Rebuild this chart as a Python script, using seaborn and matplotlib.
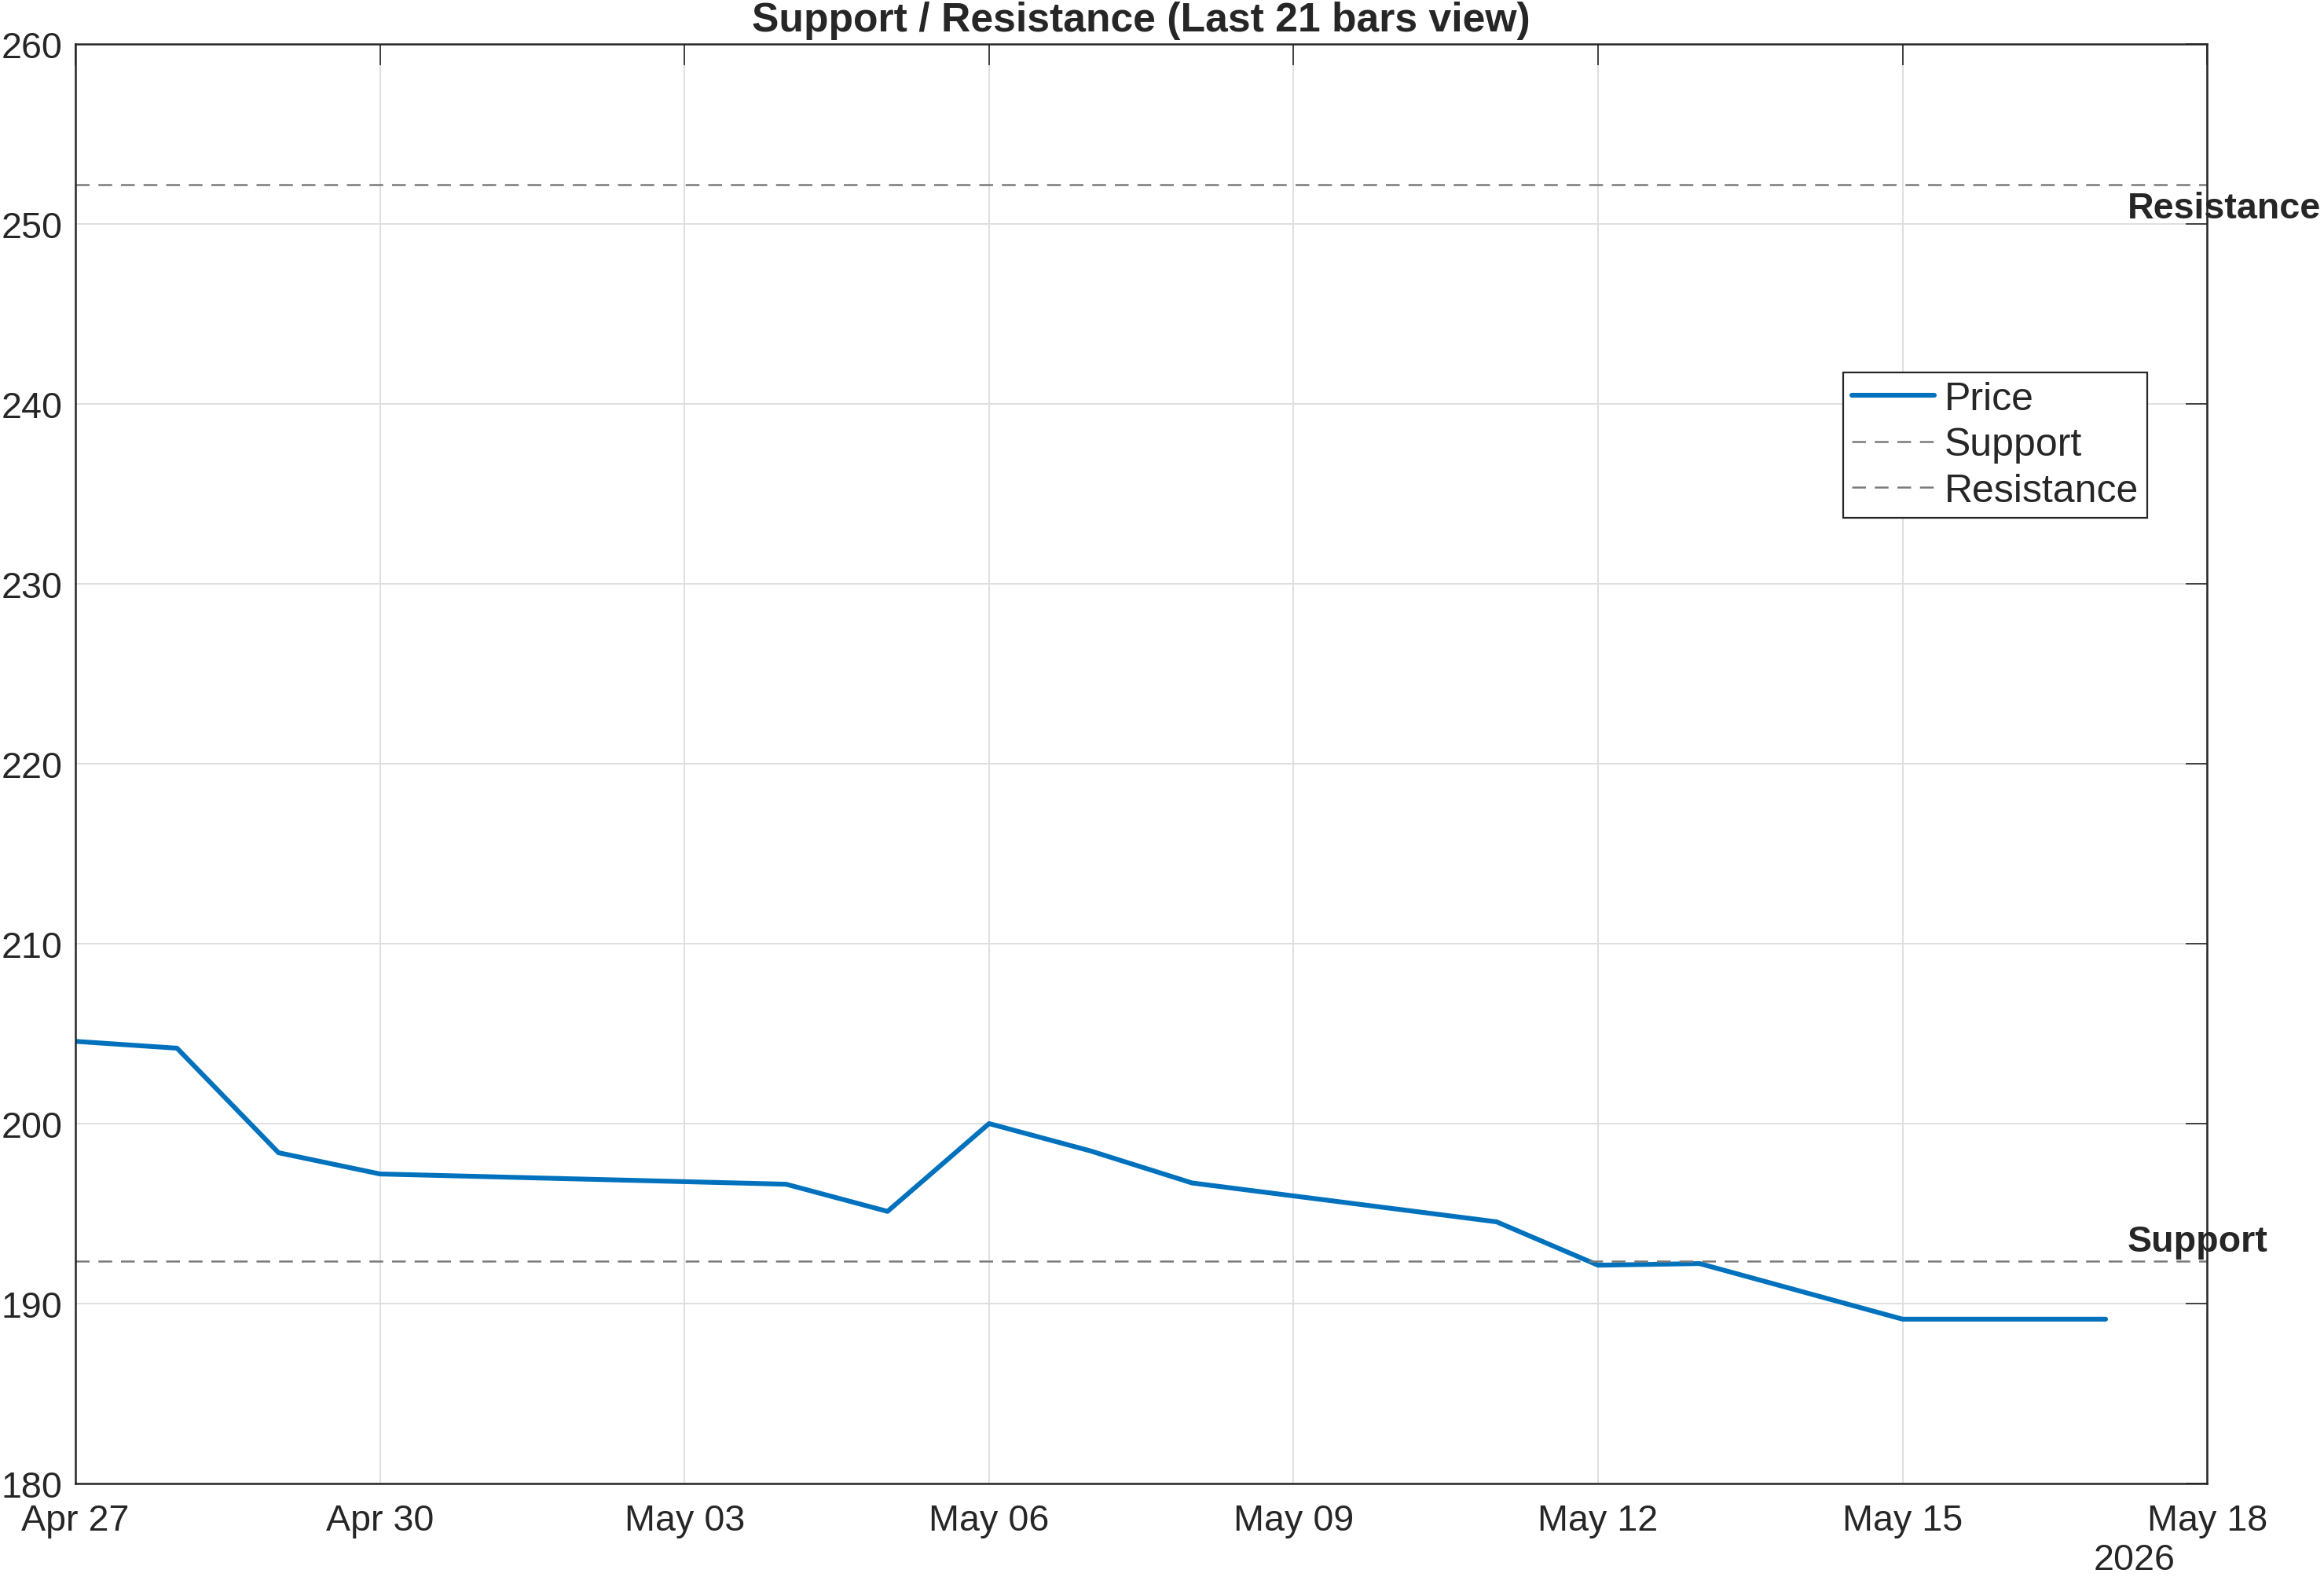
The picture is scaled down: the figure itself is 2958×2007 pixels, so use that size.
import numpy as np
import pandas as pd
import seaborn as sns
import matplotlib
matplotlib.use('Agg')
import matplotlib.pyplot as plt
import matplotlib.dates as mdates

# data
dates = ['2026-04-27', '2026-04-28', '2026-04-29', '2026-04-30', '2026-05-04',
         '2026-05-05', '2026-05-06', '2026-05-07', '2026-05-08', '2026-05-11',
         '2026-05-12', '2026-05-13', '2026-05-15', '2026-05-17']
prices = [204.57, 204.19, 198.38, 197.2, 196.63,
          195.12, 200.0, 198.48, 196.7, 194.54,
          192.13, 192.22, 189.13, 189.13]
support = 192.35
resistance = 252.2
xtick_dates = ['2026-04-27', '2026-04-30', '2026-05-03', '2026-05-06',
               '2026-05-09', '2026-05-12', '2026-05-15', '2026-05-18']
yticks = [180, 190, 200, 210, 220, 230, 240, 250, 260]

sns.set_style('white')
plt.rcParams['font.family'] = ['Liberation Sans', 'DejaVu Sans']

df = pd.DataFrame({'date': pd.to_datetime(dates), 'price': prices})

fig = plt.figure(figsize=(14.79, 10.04), dpi=200)
ax = fig.add_axes([0.0325, 0.0593, 0.9172, 0.9123])

dark = '#262626'
gray = '#7a7a7a'

sns.lineplot(data=df, x='date', y='price', ax=ax, color='#0072BD', linewidth=2.2, label='Price')
ax.axhline(support, color=gray, linewidth=0.9, linestyle=(0, (7, 4.5)), label='Support')
ax.axhline(resistance, color=gray, linewidth=0.9, linestyle=(0, (7, 4.5)), label='Resistance')

last = mdates.date2num(df['date'].iloc[-1])
ax.annotate('Resistance', xy=(last, resistance), xytext=(10, -3), textcoords='offset points',
            ha='left', va='top', fontsize=16.8, fontweight='bold', color=dark,
            annotation_clip=False)
ax.annotate('Support', xy=(last, support), xytext=(10, 1), textcoords='offset points',
            ha='left', va='bottom', fontsize=16.8, fontweight='bold', color=dark,
            annotation_clip=False)

ax.set_xlim(pd.Timestamp('2026-04-27'), pd.Timestamp('2026-05-18'))
ax.set_ylim(180, 260)
ax.set_xticks(pd.to_datetime(xtick_dates))
ax.xaxis.set_major_formatter(mdates.DateFormatter('%b %d'))
ax.set_yticks(yticks)

ax.grid(True, color='#dfdfdf', linewidth=0.7)
ax.set_axisbelow(True)
ax.tick_params(axis='both', direction='in', length=9.7, width=0.6, color=dark,
               labelsize=16.8, labelcolor=dark, top=True, right=True)
ax.tick_params(axis='x', pad=9)
ax.tick_params(axis='y', pad=6)
for s in ax.spines.values():
    s.set_color(dark)
    s.set_linewidth(0.9)
    s.set_visible(True)

ax.set_xlabel('')
ax.set_ylabel('')
ax.set_title('Support / Resistance (Last 21 bars view)', fontsize=18.6, fontweight='bold',
             color=dark, pad=6)

ax.annotate('2026', xy=(0.966, 0), xycoords='axes fraction', xytext=(0, -35),
            textcoords='offset points', ha='center', va='center', fontsize=16.8, color=dark)

leg = ax.legend(loc='upper right', bbox_to_anchor=(0.972, 0.772), fontsize=18,
                frameon=True, fancybox=False, shadow=False, handlelength=2.1,
                handletextpad=0.25, labelspacing=0.25, borderpad=0.22, borderaxespad=0)
leg.get_frame().set_edgecolor(dark)
leg.get_frame().set_linewidth(0.8)
leg.get_frame().set_facecolor('white')
leg.get_frame().set_alpha(1)

fig.savefig('out.png', dpi=200, facecolor='white')
